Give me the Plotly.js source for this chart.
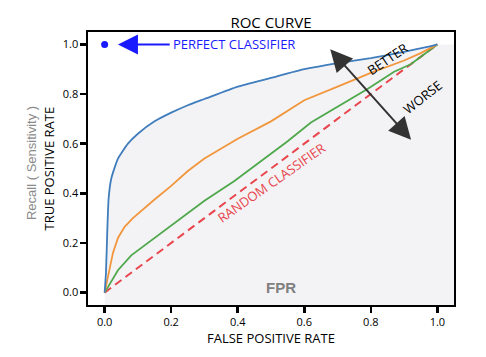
<!DOCTYPE html>
<html>
<head>
<meta charset="utf-8">
<script src="https://cdn.plot.ly/plotly-3.0.1.min.js"></script>
<style>html,body{margin:0;padding:0;background:#fff;}#chart{width:486px;height:357px;}</style>
</head>
<body>
<div id="chart"></div>
<script>
// ---- data ----
const blueX   = [0, 0.004, 0.008, 0.012, 0.02, 0.04, 0.07, 0.1, 0.15, 0.2, 0.25, 0.3, 0.4, 0.5, 0.6, 0.7, 0.8, 0.9, 0.97, 1.0];
const blueY   = [0, 0.08, 0.25, 0.38, 0.46, 0.54, 0.60, 0.64, 0.69, 0.725, 0.755, 0.78, 0.83, 0.865, 0.90, 0.925, 0.945, 0.97, 0.99, 1.0];
const orangeX = [0, 0.008, 0.025, 0.04, 0.06, 0.085, 0.11, 0.15, 0.2, 0.25, 0.3, 0.4, 0.5, 0.6, 0.7, 0.8, 0.9, 0.95, 1.0];
const orangeY = [0, 0.05, 0.16, 0.22, 0.265, 0.30, 0.33, 0.375, 0.43, 0.49, 0.54, 0.62, 0.69, 0.775, 0.83, 0.885, 0.935, 0.965, 1.0];
const greenX  = [0, 0.015, 0.04, 0.08, 0.14, 0.2, 0.24, 0.3, 0.39, 0.46, 0.55, 0.62, 0.7, 0.79, 0.87, 0.92, 1.0];
const greenY  = [0, 0.036, 0.09, 0.15, 0.21, 0.27, 0.31, 0.37, 0.45, 0.52, 0.61, 0.685, 0.75, 0.82, 0.89, 0.92, 1.0];
const randomX = [0, 1];
const randomY = [0, 1];
const perfectX = [0];
const perfectY = [1];
const tickVals = [0, 0.2, 0.4, 0.6, 0.8, 1.0];
const tickText = ['0.0', '0.2', '0.4', '0.6', '0.8', '1.0'];
const titleText = 'ROC CURVE';
const xTitle = 'FALSE POSITIVE RATE';
const yTitle = 'TRUE POSITIVE RATE';
const yTitle2 = 'Recall ( Sensitivity )';
const xTitle2 = 'FPR';

const FONT = 'Humor Sans, Open Sans, DejaVu Sans, sans-serif';
const xRange = [-0.05, 1.05];
const yRange = [-0.05, 1.05];

// gray fill region below the best curve
const fillX = blueX.concat([xRange[1], xRange[1], blueX[0]]);
const fillY = blueY.concat([blueY[blueY.length - 1], yRange[0], yRange[0]]);

const traces = [
  {x: fillX, y: fillY, mode: 'lines', fill: 'toself', fillcolor: '#f3f3f6', line: {width: 0}, hoverinfo: 'skip', showlegend: false},
  {x: randomX, y: randomY, mode: 'lines', line: {color: '#e8464c', width: 2, dash: '8px,5px'}, showlegend: false},
  {x: greenX, y: greenY, mode: 'lines', line: {color: '#4fa84b', width: 1.8}, showlegend: false},
  {x: orangeX, y: orangeY, mode: 'lines', line: {color: '#f2963c', width: 1.8}, showlegend: false},
  {x: blueX, y: blueY, mode: 'lines', line: {color: '#3f7dbd', width: 1.8, shape: 'spline', smoothing: 0.5}, showlegend: false},
  {x: perfectX, y: perfectY, mode: 'markers', marker: {color: '#1a1aff', size: 7}, showlegend: false}
];

const axisCommon = {
  showgrid: false, zeroline: false, showline: true, mirror: true,
  linecolor: '#000', linewidth: 1.6,
  ticks: 'outside', ticklen: 6, tickwidth: 2.5, tickcolor: '#000',
  tickvals: tickVals, ticktext: tickText,
  tickfont: {family: FONT, size: 11, color: '#000'}
};

const layout = {
  width: 486, height: 357,
  margin: {l: 88, r: 32, t: 32, b: 52},
  paper_bgcolor: '#ffffff', plot_bgcolor: '#ffffff',
  title: {text: titleText, font: {family: FONT, size: 15, color: '#000'}, x: 0.5, xref: 'paper', xanchor: 'center', y: 1 - 23/357, yanchor: 'middle'},
  xaxis: Object.assign({range: xRange}, axisCommon),
  yaxis: Object.assign({range: yRange}, axisCommon),
  font: {family: FONT},
  annotations: [
    {xref: 'paper', yref: 'paper', x: 0.5, y: 0, yshift: -33, yanchor: 'middle', text: xTitle, showarrow: false, font: {family: FONT, size: 13, color: '#000'}},
    {xref: 'paper', yref: 'paper', x: 0, y: 0.5, xshift: -40, xanchor: 'center', yanchor: 'middle', textangle: -90, text: yTitle, showarrow: false, font: {family: FONT, size: 13, color: '#000'}},
    {xref: 'paper', yref: 'paper', x: 0, y: 0.52, xshift: -57, xanchor: 'center', yanchor: 'middle', textangle: -90, text: yTitle2, showarrow: false, font: {family: 'Liberation Sans, Arial, sans-serif', size: 13, color: '#8a8a8a'}},
    {x: 0.53, y: 0.02, text: '<b>' + xTitle2 + '</b>', showarrow: false, font: {family: 'Liberation Sans, Arial, sans-serif', size: 15, color: '#808080'}},
    // perfect classifier arrow + text
    {x: 0.04, y: 1.0, ax: 0.2, ay: 1.0, axref: 'x', ayref: 'y', text: '', showarrow: true, arrowhead: 2, arrowsize: 2, arrowwidth: 2, arrowcolor: '#1a1aff'},
    {x: 0.2, y: 1.0, xanchor: 'left', yanchor: 'middle', text: 'PERFECT CLASSIFIER', showarrow: false, font: {family: FONT, size: 13, color: '#1a1aff'}},
    // better / worse arrow
    {x: 0.678, y: 0.98, ax: 0.925, ay: 0.61, axref: 'x', ayref: 'y', text: '', showarrow: true, arrowhead: 2, arrowside: 'end+start', arrowsize: 2.2, arrowwidth: 2, arrowcolor: '#333'},
    {x: 0.85, y: 0.94, text: 'BETTER', textangle: -34, showarrow: false, font: {family: FONT, size: 13, color: '#000'}},
    {x: 0.955, y: 0.79, text: 'WORSE', textangle: -38, showarrow: false, font: {family: FONT, size: 13, color: '#000'}},
    {x: 0.50, y: 0.44, text: 'RANDOM CLASSIFIER', textangle: -35, showarrow: false, font: {family: FONT, size: 13, color: '#e8464c'}}
  ]
};

Plotly.newPlot('chart', traces, layout, {staticPlot: true, displayModeBar: false});
</script>
</body>
</html>
